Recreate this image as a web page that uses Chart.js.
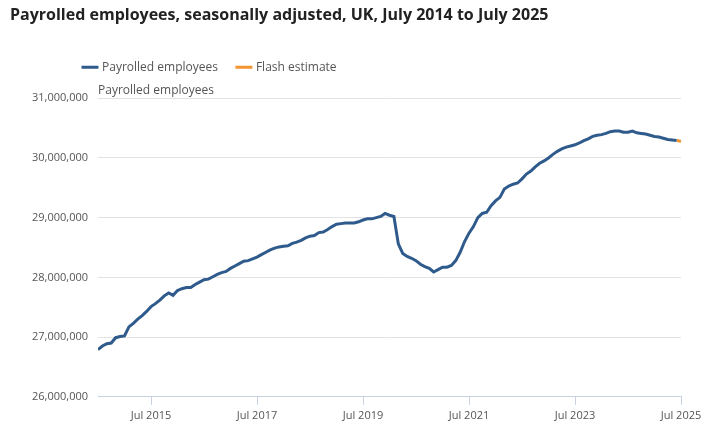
<!DOCTYPE html>
<html>
<head>
<meta charset="utf-8">
<script src="https://cdn.jsdelivr.net/npm/chart.js@4"></script>
<style>
  body { margin: 0; background: #fff; }
  #wrap { width: 722px; height: 443px; }
</style>
</head>
<body>
<div id="wrap"><canvas id="myChart"></canvas></div>
<script>
// monthly, Jul 2014 .. Jun 2025 (thousands)
const payrolled = [
  26790, 26850, 26890, 26900, 26990, 27010, 27020, 27170, 27230, 27300, 27360, 27430,
  27510, 27560, 27620, 27690, 27740, 27700, 27780, 27810, 27830, 27830, 27880, 27920,
  27960, 27970, 28010, 28050, 28080, 28100, 28150, 28190, 28230, 28270, 28280, 28310,
  28340, 28380, 28420, 28460, 28490, 28510, 28520, 28530, 28570, 28590, 28620, 28660,
  28690, 28700, 28750, 28760, 28800, 28850, 28890, 28900, 28910, 28910, 28910, 28930,
  28960, 28980, 28980, 29000, 29020, 29070, 29040, 29020, 28560, 28400, 28350, 28320,
  28280, 28220, 28180, 28150, 28090, 28130, 28170, 28170, 28200, 28280, 28420, 28600,
  28740, 28850, 29000, 29070, 29090, 29200, 29280, 29340, 29480, 29530, 29560, 29580,
  29650, 29730, 29780, 29850, 29910, 29950, 30000, 30060, 30110, 30150, 30180, 30200,
  30220, 30250, 30290, 30320, 30360, 30380, 30390, 30410, 30440, 30450, 30450, 30430,
  30430, 30450, 30420, 30410, 30400, 30380, 30360, 30350, 30330, 30310, 30300, 30290
];
const flashEstimate = 30280; // Jul 2025
const startYear = 2014; // first month is July
const tickMonths = [12, 36, 60, 84, 108, 132];

const payData = payrolled.map((v, i) => ({ x: i, y: v * 1000 }));
const last = payrolled.length - 1;
const flashData = [
  { x: last, y: payrolled[last] * 1000 },
  { x: last + 1, y: flashEstimate * 1000 }
];

// axis title above the plot + legend nudges
const axisTitle = {
  id: 'axisTitle',
  afterInit(chart) {
    const lg = chart.legend;
    const fit = lg.fit;
    lg.fit = function () { fit.call(this); this.height += 15; };
  },
  afterLayout(chart) {
    chart.legend.left += 54;
    chart.legend.right += 54;
  },
  afterDraw(chart) {
    const { ctx, chartArea } = chart;
    ctx.save();
    ctx.font = '12px "Open Sans"';
    ctx.fillStyle = '#555';
    ctx.textBaseline = 'middle';
    ctx.fillText('Payrolled employees', chartArea.left, chartArea.top - 8);
    ctx.restore();
  }
};

const ctx = document.getElementById('myChart').getContext('2d');
new Chart(ctx, {
  type: 'line',
  data: {
    datasets: [
      { label: 'Payrolled employees', data: payData, borderColor: '#2e5a8c', backgroundColor: '#2e5a8c', borderWidth: 3, pointRadius: 0, tension: 0 },
      { label: 'Flash estimate', data: flashData, borderColor: '#f39431', backgroundColor: '#f39431', borderWidth: 3, pointRadius: 0, tension: 0 }
    ]
  },
  plugins: [axisTitle],
  options: {
    responsive: true,
    maintainAspectRatio: false,
    animation: false,
    layout: { padding: { left: 10, right: 41, top: 4, bottom: 17 } },
    plugins: {
      title: {
        display: true, text: 'Payrolled employees, seasonally adjusted, UK, July 2014 to July 2025',
        align: 'start', color: '#222', font: { family: 'Open Sans', size: 16, weight: 'bold' },
        padding: { top: 2, bottom: 16 }
      },
      legend: {
        align: 'start',
        labels: {
          usePointStyle: true, pointStyle: 'line', boxWidth: 50, padding: 20,
          color: '#555', font: { family: 'Open Sans', size: 12 }
        }
      },
      tooltip: { enabled: false }
    },
    scales: {
      x: {
        type: 'linear', min: 0, max: 132,
        afterBuildTicks: (axis) => { axis.ticks = tickMonths.map(v => ({ value: v })); },
        ticks: {
          callback: (v) => 'Jul ' + (startYear + v / 12),
          color: '#555', font: { family: 'Open Sans', size: 11 }, maxRotation: 0, padding: 4
        },
        grid: { display: true, drawOnChartArea: false, drawTicks: true, tickLength: 8, color: '#c8d2e0' },
        border: { color: '#c8d2e0' }
      },
      y: {
        min: 26000000, max: 31000000,
        ticks: {
          stepSize: 1000000, color: '#555', font: { family: 'Open Sans', size: 11 }, padding: 10,
          callback: (v) => v.toLocaleString('en-GB')
        },
        grid: { color: '#e3e3e3', drawTicks: false },
        border: { display: false },
        afterFit: (axis) => { axis.width = 88; }
      }
    }
  }
});
</script>
</body>
</html>
